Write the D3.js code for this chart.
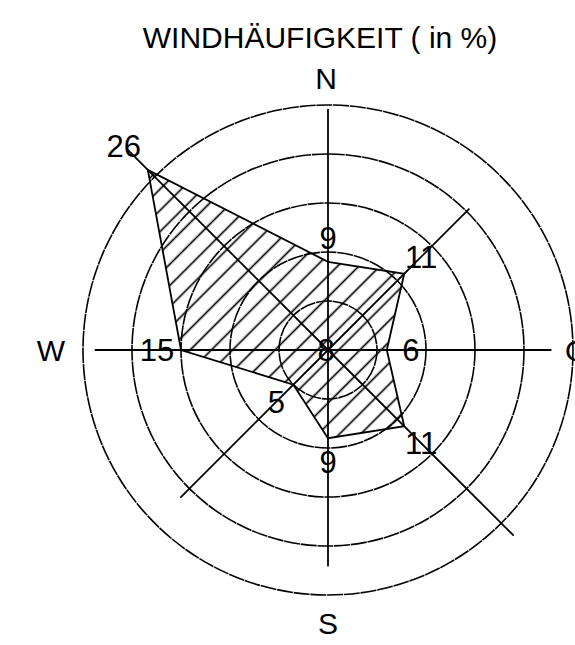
<!DOCTYPE html>
<html>
<head>
<meta charset="utf-8">
<script src="https://cdn.jsdelivr.net/npm/d3@7"></script>
<style>
  body { margin: 0; background: #fff; }
  text { font-family: "Liberation Sans", Arial, sans-serif; fill: #000; }
</style>
</head>
<body>
<div id="chart"></div>
<script>
// directions clockwise from north, values in %
const directions = ['N', 'NO', 'O', 'SO', 'S', 'SW', 'W', 'NW']
const values = [9, 11, 6, 11, 9, 5, 15, 26]
const calm = 8
const rings = [5, 10, 15, 20, 25]
// how far each axis line reaches (in %)
const axisReach = [24.6, 20.4, 22.8, 26.8, 22.1, 21.3, 23.8, 29]
const compass = [
  { text: 'N', angle: 0 },
  { text: 'O', angle: 90 },
  { text: 'S', angle: 180 },
  { text: 'W', angle: 270 }
]

const W = 575, H = 645
const CX = 328, CY = 350

const svg = d3.select('#chart').append('svg')
  .attr('width', W)
  .attr('height', H)

// ─── HATCH PATTERN ──────────────────────────────────────────
svg.append('defs').append('pattern')
  .attr('id', 'hatch')
  .attr('patternUnits', 'userSpaceOnUse')
  .attr('width', 15)
  .attr('height', 15)
  .attr('patternTransform', 'rotate(-45)')
  .append('line')
    .attr('x1', 0).attr('y1', 7.5)
    .attr('x2', 15).attr('y2', 7.5)
    .attr('stroke', '#000')
    .attr('stroke-width', 1.7)

const g = svg.append('g').attr('transform', `translate(${CX}, ${CY})`)

const r = d3.scaleLinear().domain([0, 25]).range([0, 245])
const angle = i => i * Math.PI / 4

// ─── RINGS ──────────────────────────────────────────────────
g.selectAll('circle.ring')
  .data(rings)
  .enter().append('circle')
    .attr('class', 'ring')
    .attr('r', d => r(d))
    .attr('fill', 'none')
    .attr('stroke', '#000')
    .attr('stroke-width', 1.6)
    .attr('stroke-dasharray', '16,0.8')

// ─── POLYGON ────────────────────────────────────────────────
const radial = d3.lineRadial()
  .angle((d, i) => angle(i))
  .radius(d => r(d))
  .curve(d3.curveLinearClosed)

g.append('path')
  .datum(values)
  .attr('d', radial)
  .attr('fill', 'url(#hatch)')
  .attr('stroke', '#000')
  .attr('stroke-width', 1.8)
  .attr('stroke-linejoin', 'miter')

// ─── AXIS LINES ─────────────────────────────────────────────
g.selectAll('line.axis')
  .data(axisReach)
  .enter().append('line')
    .attr('class', 'axis')
    .attr('x1', 0).attr('y1', 0)
    .attr('x2', (d, i) => r(d) * Math.sin(angle(i)))
    .attr('y2', (d, i) => -r(d) * Math.cos(angle(i)))
    .attr('stroke', '#000')
    .attr('stroke-width', 1.8)

// ─── VALUE LABELS ───────────────────────────────────────────
g.selectAll('text.val')
  .data(values)
  .enter().append('text')
    .attr('class', 'val')
    .attr('x', (d, i) => (r(d) + (d > 20 ? 34 : 24)) * Math.sin(angle(i)))
    .attr('y', (d, i) => -(r(d) + (d > 20 ? 34 : 24)) * Math.cos(angle(i)))
    .attr('dy', '0.36em')
    .attr('text-anchor', 'middle')
    .attr('font-size', 31)
    .text(d => d)

g.append('text')
  .attr('x', -2)
  .attr('dy', '0.34em')
  .attr('text-anchor', 'middle')
  .attr('font-size', 31)
  .text(calm)

// ─── COMPASS LETTERS ────────────────────────────────────────
const compassPos = {
  N: [-2, -261],
  O: [237, 11],
  S: [0, 284],
  W: [-277, 11]
}
g.selectAll('text.dir')
  .data(compass)
  .enter().append('text')
    .attr('class', 'dir')
    .attr('x', d => compassPos[d.text][0])
    .attr('y', d => compassPos[d.text][1])
    .attr('text-anchor', d => d.text === 'O' ? 'start' : 'middle')
    .attr('font-size', 30)
    .text(d => d.text)

// ─── TITLE ──────────────────────────────────────────────────
svg.append('text')
  .attr('x', 320)
  .attr('y', 48)
  .attr('text-anchor', 'middle')
  .attr('font-size', 30)
  .text('WINDHÄUFIGKEIT ( in %)')
</script>
</body>
</html>
